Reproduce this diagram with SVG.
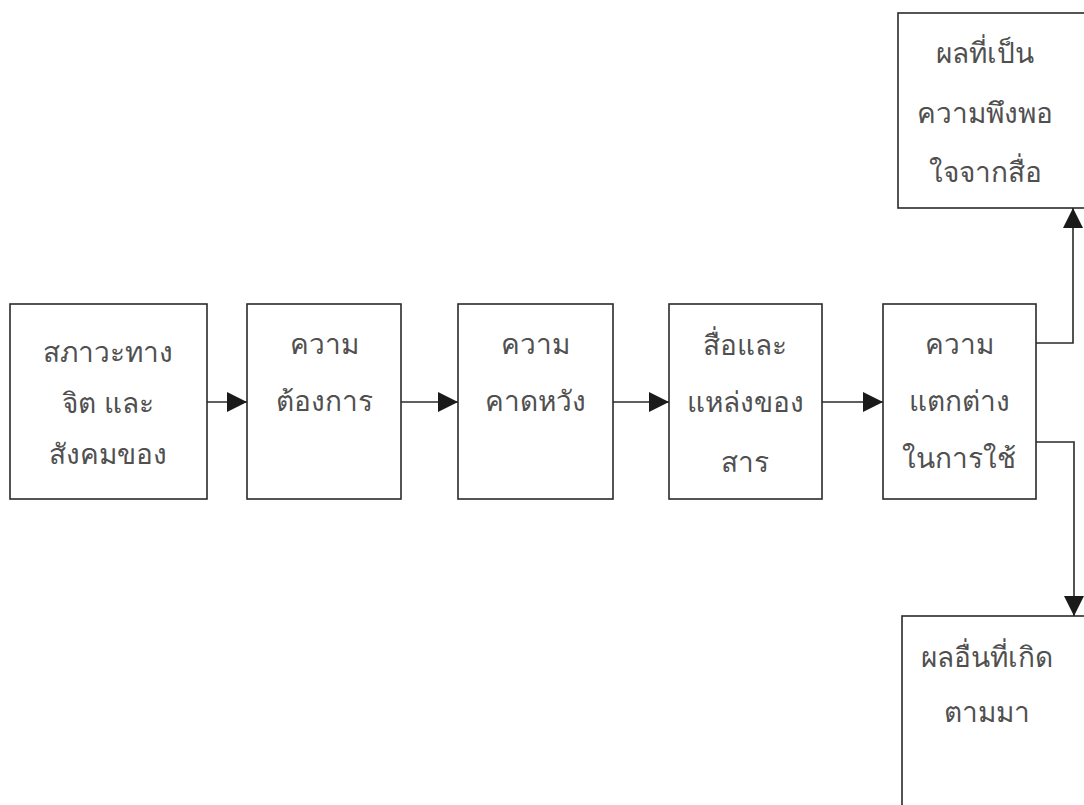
<svg xmlns="http://www.w3.org/2000/svg" width="1084" height="805" viewBox="0 0 1084 805">
<style>
.box{fill:#fff;stroke:#2a2a2a;stroke-width:1.6}
.t{font-family:"Noto Sans","DejaVu Sans",sans-serif;font-size:28px;fill:#505050;text-anchor:middle}
.c{fill:none;stroke:#2a2a2a;stroke-width:1.6}
</style>
<defs>
<marker id="ah" viewBox="0 0 10 10" refX="10" refY="5" markerWidth="20" markerHeight="20" markerUnits="userSpaceOnUse" orient="auto">
<path d="M0,0 L10,5 L0,10 Z" fill="#1a1a1a"/>
</marker>
</defs>
<rect width="1084" height="805" fill="#fff"/>
<g id="n1"><rect class="box" x="10" y="304" width="197" height="195"/>
<text class="t" x="108" y="362">สภาวะทาง</text><text class="t" x="108" y="413">จิต และ</text><text class="t" x="108" y="464">สังคมของ</text></g>
<g id="n2"><rect class="box" x="247" y="304" width="154" height="195"/>
<text class="t" x="324" y="354">ความ</text><text class="t" x="324" y="411">ต้องการ</text></g>
<g id="n3"><rect class="box" x="458" y="304" width="155" height="195"/>
<text class="t" x="535" y="354">ความ</text><text class="t" x="535" y="411">คาดหวัง</text></g>
<g id="n4"><rect class="box" x="669" y="304" width="153" height="195"/>
<text class="t" x="745" y="355">สื่อและ</text><text class="t" x="745" y="412">แหล่งของ</text><text class="t" x="745" y="472">สาร</text></g>
<g id="n5"><rect class="box" x="883" y="304" width="153" height="195"/>
<text class="t" x="959" y="354">ความ</text><text class="t" x="959" y="411">แตกต่าง</text><text class="t" x="959" y="468">ในการใช้</text></g>
<g id="n6"><rect class="box" x="898" y="13" width="200" height="195"/>
<text class="t" x="985" y="63">ผลที่เป็น</text><text class="t" x="985" y="123">ความพึงพอ</text><text class="t" x="985" y="182">ใจจากสื่อ</text></g>
<g id="n7"><rect class="box" x="902" y="616" width="200" height="200"/>
<text class="t" x="987" y="667">ผลอื่นที่เกิด</text><text class="t" x="987" y="722">ตามมา</text></g>
<g id="connectors">
<line class="c" x1="207" y1="402" x2="247" y2="402" marker-end="url(#ah)"/>
<line class="c" x1="401" y1="402" x2="458" y2="402" marker-end="url(#ah)"/>
<line class="c" x1="613" y1="402" x2="669" y2="402" marker-end="url(#ah)"/>
<line class="c" x1="822" y1="402" x2="883" y2="402" marker-end="url(#ah)"/>
<polyline class="c" points="1036,343 1073,343 1073,208" marker-end="url(#ah)"/>
<polyline class="c" points="1036,442 1074,442 1074,616" marker-end="url(#ah)"/>
</g>
</svg>
